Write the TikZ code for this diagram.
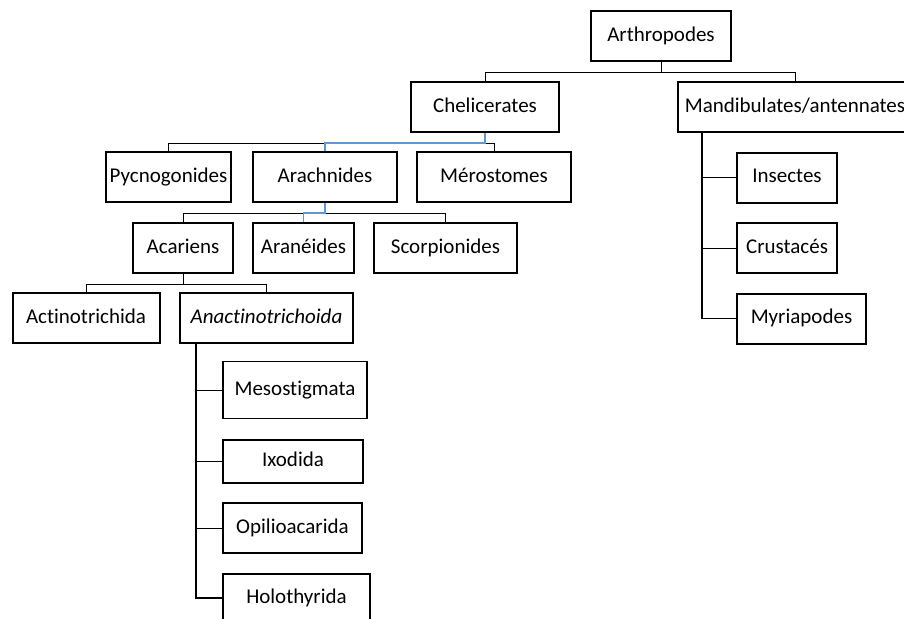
\documentclass[tikz,border=0pt]{standalone}
\usepackage{fontspec}
\setmainfont{Carlito}[Ligatures=NoCommon]
\usetikzlibrary{calc}
\definecolor{linkblue}{RGB}{91,155,213}

\begin{document}
\begin{tikzpicture}[x=0.5pt,y=-0.5pt,
  box/.style={draw, line width=1pt, minimum height=25pt, inner sep=1pt, font=\fontsize{10.5}{12}\selectfont, text height=0.7em, text depth=0.2em},
  thinbox/.style={box, line width=0.7pt},
  link/.style={line width=0.5pt},
  stem/.style={line width=0.85pt},
  bluelink/.style={line width=0.8pt, linkblue}]
\clip (0,0) rectangle (904,618);

\node[box, minimum width=70pt] (arth) at (661,36) {Arthropodes};
\node[box, minimum width=74pt] (chel) at (485,107) {Chelicerates};
\node[box, minimum width=117pt] (mandi) at (795,107) {Mandibulates/antennates};

\node[box, minimum width=62.5pt] (pycno) at (168.5,177) {Pycnogonides};
\node[box, minimum width=72pt] (arach) at (325,177) {Arachnides};
\node[box, minimum width=77pt] (mero) at (494,177) {Mérostomes};

\node[box, minimum width=50pt] (acar) at (183,248) {Acariens};
\node[box, minimum width=50.5pt] (aran) at (303.5,248) {Aranéides};
\node[box, minimum width=71.5pt] (scorp) at (445.5,248) {Scorpionides};

\node[box, minimum width=73.5pt] (actino) at (86,318) {Actinotrichida};
\node[box, minimum width=86.5pt] (anact) at (266.5,318) {\textit{Anactinotrichoida}};

\node[thinbox, minimum width=72pt, minimum height=28.5pt] (meso) at (295,390) {Mesostigmata};
\node[thinbox, minimum width=70pt, minimum height=21.5pt] (ixo) at (293,461.5) {Ixodida};
\node[thinbox, minimum width=69.5pt] (opil) at (292.5,528) {Opilioacarida};
\node[box, minimum width=73.5pt, minimum height=24pt] (holo) at (296.5,598) {Holothyrida};

\node[box, minimum width=50pt] (insect) at (787,177.5) {Insectes};
\node[box, minimum width=50pt] (crust) at (787,248) {Crustacés};
\node[box, minimum width=64.5pt] (myria) at (801.5,318.5) {Myriapodes};

\draw[link] (arth.south) -- ++(0,10) -| (chel.north);
\draw[link] (arth.south) -- ++(0,10) -| (mandi.north);

\draw[link] (chel.south) -- ++(0,10) -| (pycno.north);
\draw[link] (chel.south) -- ++(0,10) -| (mero.north);
\draw[bluelink] (chel.south) -- ++(0,10) -| (arach.north);

\draw[link] (arach.south) -- ++(0,10) -| (acar.north);
\draw[link] (arach.south) -- ++(0,10) -| (scorp.north);
\draw[bluelink] (arach.south) -- ++(0,10) -| (aran.north);

\draw[link] (acar.south) -- ++(0,10) -| (actino.north);
\draw[link] (acar.south) -- ++(0,10) -| (anact.north);

\coordinate (astem) at ($(anact.south west)+(17,0)$);
\draw[stem] (astem) |- (holo.west);
\draw[link] (meso.west) -- (meso.west -| astem);
\draw[link] (ixo.west) -- (ixo.west -| astem);
\draw[link] (opil.west) -- (opil.west -| astem);

\coordinate (mstem) at ($(mandi.south west)+(25,0)$);
\draw[stem] (mstem) |- (myria.west);
\draw[link] (insect.west) -- (insect.west -| mstem);
\draw[link] (crust.west) -- (crust.west -| mstem);
\end{tikzpicture}
\end{document}
